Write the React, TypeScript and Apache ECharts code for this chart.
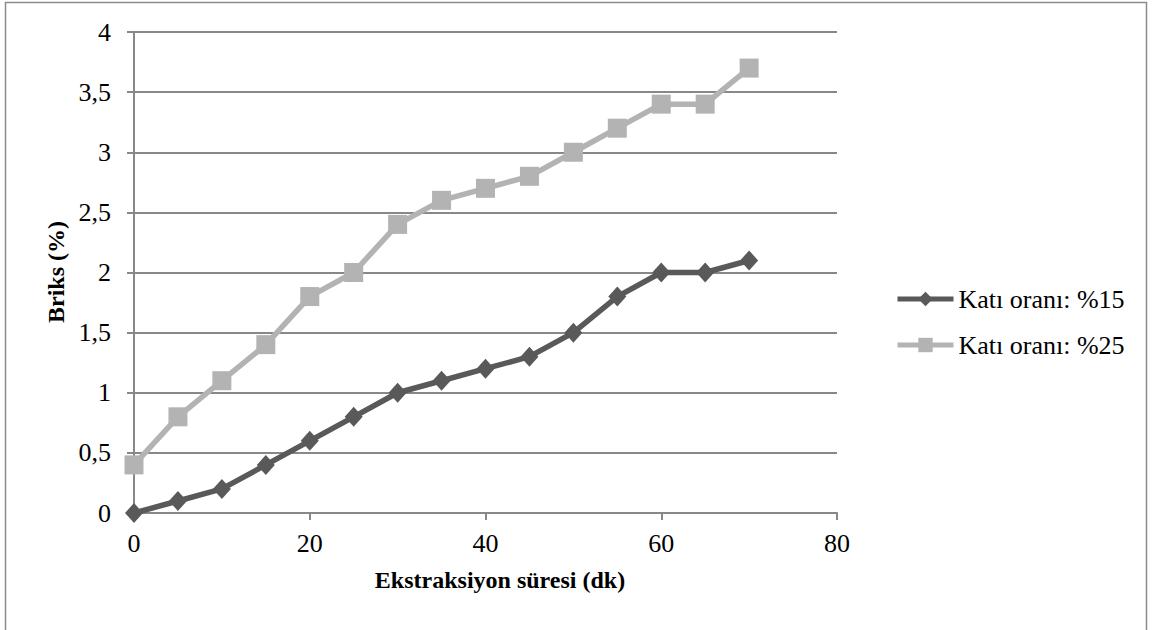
import React, { useEffect, useRef } from "react";
import * as echarts from "echarts";

// Extraction time (minutes)
const times = [0, 5, 10, 15, 20, 25, 30, 35, 40, 45, 50, 55, 60, 65, 70];
// Brix (%) for each solid ratio
const brix15 = [0, 0.1, 0.2, 0.4, 0.6, 0.8, 1.0, 1.1, 1.2, 1.3, 1.5, 1.8, 2.0, 2.0, 2.1];
const brix25 = [0.4, 0.8, 1.1, 1.4, 1.8, 2.0, 2.4, 2.6, 2.7, 2.8, 3.0, 3.2, 3.4, 3.4, 3.7];
const seriesNames = ["Katı oranı: %15", "Katı oranı: %25"];
const xTitle = "Ekstraksiyon süresi (dk)";
const yTitle = "Briks (%)";

const FONT = "Times New Roman";
const DARK = "#595959";
const LIGHT = "#b3b3b3";
const AXIS_GREY = "#888888";

export default function App() {
  const ref = useRef<HTMLDivElement>(null);

  useEffect(() => {
    if (!ref.current) return;
    const chart = echarts.init(ref.current, null, { renderer: "svg" });
    chart.setOption({
      animation: false,
      backgroundColor: "#ffffff",
      grid: { left: 134, top: 32, right: 318, bottom: 117 },
      xAxis: {
        type: "value",
        min: 0,
        max: 80,
        interval: 20,
        axisLine: { show: true, lineStyle: { color: AXIS_GREY, width: 2 } },
        axisTick: { show: true, length: 7, lineStyle: { color: AXIS_GREY, width: 2 } },
        axisLabel: { color: "#000", fontSize: 26, fontFamily: FONT, margin: 17 },
        splitLine: { show: false },
      },
      yAxis: {
        type: "value",
        min: 0,
        max: 4,
        interval: 0.5,
        axisLine: { show: true, lineStyle: { color: AXIS_GREY, width: 2 } },
        axisTick: { show: true, length: 7, lineStyle: { color: AXIS_GREY, width: 2 } },
        axisLabel: {
          color: "#000",
          fontSize: 26,
          fontFamily: FONT,
          margin: 23,
          formatter: (v: number) => String(v).replace(".", ","),
        },
        splitLine: { show: true, lineStyle: { color: AXIS_GREY, width: 2 } },
      },
      legend: {
        orient: "vertical",
        left: 890,
        top: 281,
        itemWidth: 56,
        itemHeight: 18,
        itemGap: 20,
        textStyle: { fontSize: 26, color: "#000", fontFamily: FONT },
        data: [
          { name: seriesNames[0], lineStyle: { width: 5, color: DARK } },
          { name: seriesNames[1], lineStyle: { width: 5, color: LIGHT } },
        ],
      },
      graphic: [
        {
          type: "rect",
          shape: { x: 5.5, y: 2.5, width: 1141, height: 660 },
          style: { fill: "none", stroke: "#8c8c8c", lineWidth: 1.5 },
          silent: true,
        },
        {
          type: "text",
          x: 500,
          y: 580,
          style: {
            text: xTitle,
            fontFamily: FONT,
            fontSize: 24,
            fontWeight: "bold",
            fill: "#000",
            align: "center",
            verticalAlign: "middle",
          },
        },
        {
          type: "text",
          x: 56,
          y: 272,
          rotation: Math.PI / 2,
          style: {
            text: yTitle,
            fontFamily: FONT,
            fontSize: 24,
            fontWeight: "bold",
            fill: "#000",
            align: "center",
            verticalAlign: "middle",
          },
        },
      ],
      series: [
        {
          name: seriesNames[0],
          type: "line",
          data: times.map((t, i) => [t, brix15[i]]),
          symbol: "diamond",
          symbolSize: [18, 20],
          lineStyle: { color: DARK, width: 5.5 },
          itemStyle: { color: DARK },
          z: 3,
        },
        {
          name: seriesNames[1],
          type: "line",
          data: times.map((t, i) => [t, brix25[i]]),
          symbol: "rect",
          symbolSize: 19,
          lineStyle: { color: LIGHT, width: 5.5 },
          itemStyle: { color: LIGHT },
          z: 2,
        },
      ],
    });
    return () => chart.dispose();
  }, []);

  return <div ref={ref} style={{ position: "fixed", left: 0, top: 0, width: 1155, height: 630 }} />;
}
